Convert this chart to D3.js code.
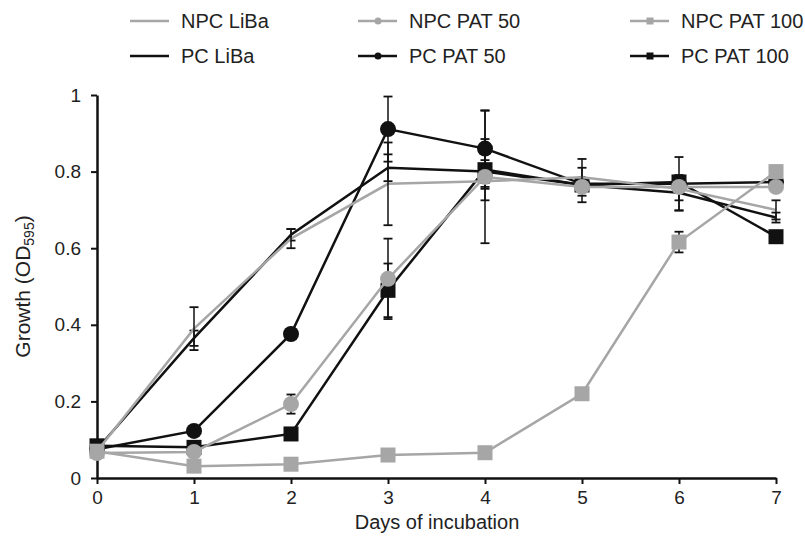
<!DOCTYPE html>
<html>
<head>
<meta charset="utf-8">
<script src="https://cdn.jsdelivr.net/npm/d3@7"></script>
<style>
  body { margin: 0; background: #fff; }
  svg text { font-family: "Liberation Sans", Arial, sans-serif; fill: #222; }
</style>
</head>
<body>
<svg width="805" height="544"></svg>
<script>
var days = [0, 1, 2, 3, 4, 5, 6, 7];
var yTicks = [0, 0.2, 0.4, 0.6, 0.8, 1];

var npcLiba = [0.07, 0.39, 0.625, 0.768, 0.775, 0.785, 0.755, 0.70];
var pcLiba = [0.075, 0.365, 0.635, 0.81, 0.80, 0.765, 0.745, 0.68];
var npcPat50 = [0.065, 0.068, 0.193, 0.52, 0.786, 0.76, 0.76, 0.76];
var pcPat50 = [0.075, 0.123, 0.376, 0.911, 0.86, 0.768, 0.768, 0.773];
var npcPat100 = [0.07, 0.031, 0.036, 0.06, 0.066, 0.22, 0.616, 0.80];
var pcPat100 = [0.084, 0.08, 0.115, 0.49, 0.805, 0.765, 0.773, 0.63];

// standard errors
var npcLibaErr = [0, 0.056, 0.025, 0.108, 0.02, 0.048, 0.03, 0.025];
var pcLibaErr = [0, 0.02, 0.015, 0.035, 0.03, 0.045, 0.046, 0.013];
var npcPat50Err = [0, 0, 0.025, 0.105, 0.173, 0.01, 0.01, 0.01];
var pcPat50Err = [0, 0, 0, 0.085, 0.1, 0.01, 0.07, 0.01];
var npcPat100Err = [0, 0, 0, 0, 0, 0, 0.027, 0];
var pcPat100Err = [0, 0, 0, 0.07, 0.08, 0.01, 0.01, 0.01];

var gray = "#a6a6a6";
var black = "#111";

var series = [
    {name: "PC LiBa", values: pcLiba, err: pcLibaErr, color: black, marker: null},
    {name: "PC PAT 50", values: pcPat50, err: pcPat50Err, color: black, marker: "circle"},
    {name: "PC PAT 100", values: pcPat100, err: pcPat100Err, color: black, marker: "square"},
    {name: "NPC LiBa", values: npcLiba, err: npcLibaErr, color: gray, marker: null},
    {name: "NPC PAT 50", values: npcPat50, err: npcPat50Err, color: gray, marker: "circle"},
    {name: "NPC PAT 100", values: npcPat100, err: npcPat100Err, color: gray, marker: "square"}
];

var svg = d3.select("svg");

var x = d3.scaleLinear().domain([0, 7]).range([97, 776]);
var y = d3.scaleLinear().domain([0, 1]).range([478, 95]);

// axes
var xAxis = svg.append("g")
    .attr("transform", `translate(0, ${y(0)})`)
    .call(d3.axisBottom(x).tickValues(days).tickSize(6).tickPadding(7).tickSizeOuter(0)
        .tickFormat(d3.format("d")));
var yAxis = svg.append("g")
    .attr("transform", `translate(${x(0)}, 0)`)
    .call(d3.axisLeft(y).tickValues(yTicks).tickSize(6).tickPadding(10).tickSizeOuter(0)
        .tickFormat((d) => d3.format("")(+d.toFixed(1))));
[xAxis, yAxis].forEach((g) => {
    g.select(".domain").attr("stroke", black).attr("stroke-width", 2.5);
    g.selectAll(".tick line").attr("stroke", black).attr("stroke-width", 2);
    g.selectAll(".tick text").attr("font-size", 19).attr("fill", "#222")
        .attr("font-family", "Liberation Sans, Arial, sans-serif");
});

svg.append("text")
    .attr("x", 437).attr("y", 529)
    .attr("text-anchor", "middle")
    .attr("font-size", 20)
    .text("Days of incubation");

var ylab = svg.append("text")
    .attr("transform", `translate(30, ${y(0.5)}) rotate(-90)`)
    .attr("text-anchor", "middle")
    .attr("font-size", 21);
ylab.append("tspan").text("Growth (OD");
ylab.append("tspan").attr("font-size", 14).attr("dy", 4).text("595");
ylab.append("tspan").attr("dy", -4).text(")");

var line = d3.line()
    .x((d, i) => x(days[i]))
    .y((d) => y(d));

var plotG = svg.append("g");

series.forEach((s) => {
    var g = plotG.append("g");
    g.append("path")
        .attr("d", line(s.values))
        .attr("fill", "none")
        .attr("stroke", s.color)
        .attr("stroke-width", 2.5);

    // error bars
    s.values.forEach((v, i) => {
        var e = s.err[i];
        if (!e) return;
        var cx = x(days[i]);
        g.append("line")
            .attr("x1", cx).attr("x2", cx)
            .attr("y1", y(v - e)).attr("y2", y(v + e))
            .attr("stroke", black).attr("stroke-width", 1.5);
        [v - e, v + e].forEach((yy) => {
            g.append("line")
                .attr("x1", cx - 4.5).attr("x2", cx + 4.5)
                .attr("y1", y(yy)).attr("y2", y(yy))
                .attr("stroke", black).attr("stroke-width", 1.8);
        });
    });

    if (s.marker == "circle") {
        g.selectAll("circle").data(s.values).enter().append("circle")
            .attr("cx", (d, i) => x(days[i]))
            .attr("cy", (d) => y(d))
            .attr("r", 8)
            .attr("fill", s.color);
    } else if (s.marker == "square") {
        g.selectAll("rect").data(s.values).enter().append("rect")
            .attr("x", (d, i) => x(days[i]) - 7.5)
            .attr("y", (d) => y(d) - 7.5)
            .attr("width", 15).attr("height", 15)
            .attr("fill", s.color);
    }
});

// legend
var legendPos = {
    "NPC LiBa": [130, 21], "NPC PAT 50": [358, 21], "NPC PAT 100": [630, 21],
    "PC LiBa": [130, 56], "PC PAT 50": [358, 56], "PC PAT 100": [630, 56]
};
series.forEach((s) => {
    var p = legendPos[s.name];
    var g = svg.append("g").attr("transform", `translate(${p[0]}, ${p[1]})`);
    g.append("line")
        .attr("x1", 0).attr("x2", 39)
        .attr("stroke", s.color).attr("stroke-width", 2.5);
    if (s.marker == "circle") {
        g.append("circle").attr("cx", 20).attr("r", 3.5).attr("fill", s.color);
    } else if (s.marker == "square") {
        g.append("rect").attr("x", 16.5).attr("y", -3.5).attr("width", 7).attr("height", 7).attr("fill", s.color);
    }
    g.append("text")
        .attr("x", s.marker ? 51 : 51)
        .attr("y", 0)
        .attr("dy", "0.35em")
        .attr("font-size", 20)
        .text(s.name);
});
</script>
</body>
</html>
